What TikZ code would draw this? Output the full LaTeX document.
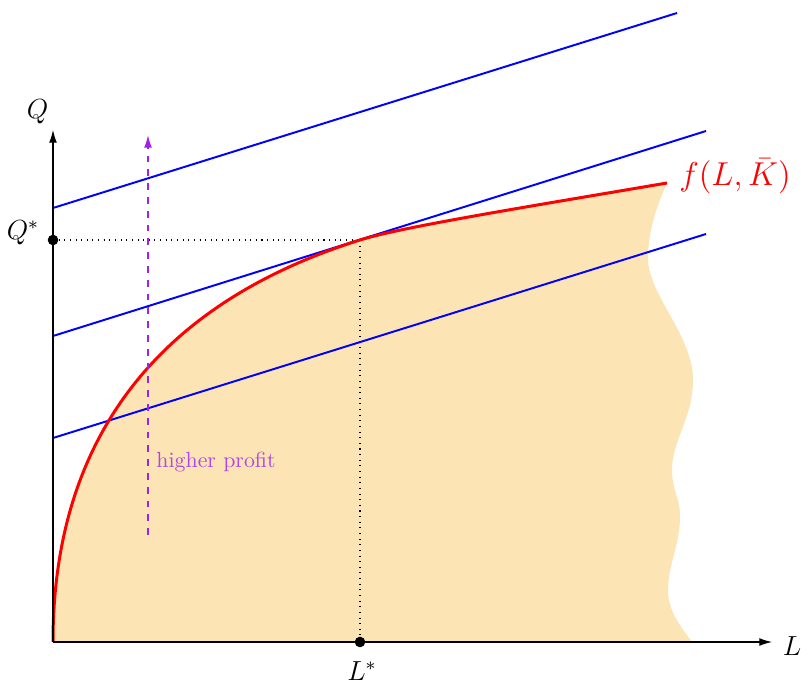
\documentclass[tikz,border=0pt]{standalone}
\usetikzlibrary{arrows.meta}
\definecolor{fillc}{RGB}{252,228,180}
\definecolor{arrowpurple}{RGB}{160,32,240}
\definecolor{textpurple}{RGB}{175,70,230}
\begin{document}
\begin{tikzpicture}[x=0.4348pt,y=-0.4348pt,
  axis/.style={line width=0.5pt,-{Latex[length=5.5pt,width=3.4pt]}},
  budget/.style={blue,line width=0.85pt},
  guide/.style={dotted,line width=0.45pt},
  lbl/.style={inner sep=0pt,font=\fontsize{11.5}{13}\selectfont},
  dotmark/.style={circle,fill=black,inner sep=0pt,minimum size=4.6pt}]
\useasboundingbox (0,0) rectangle (801,681);
% key points
\coordinate (O) at (53,642);
\coordinate (xend) at (772,642);
\coordinate (yend) at (53,130);
\coordinate (qs) at (53,240);
\coordinate (T) at (360,240);
\coordinate (E) at (667,183);
\coordinate (ls) at (360,642);
\coordinate (a1) at (53,438); \coordinate (a2) at (706,234);
\coordinate (b1) at (53,336); \coordinate (b2) at (706,131);
\coordinate (c1) at (53,208); \coordinate (c2) at (677,13);
\coordinate (p1) at (148,535); \coordinate (p2) at (148,135);
% shaded region
\fill[fillc] (O) .. controls (53,457) and (140,309.1) .. (T)
  .. controls (400,227.4) and (517,208.5) .. (E)
  .. controls (658,203) and (648,230) .. (648,258)
  .. controls (648,295) and (693,335) .. (693,380)
  .. controls (693,418) and (672,440) .. (672,470)
  .. controls (672,490) and (680,498) .. (680,516)
  .. controls (680,545) and (668,565) .. (668,590)
  .. controls (668,612) and (682,628) .. (692,642)
  -- cycle;
% guides
\draw[guide] (qs) -- (T);
\draw[guide] (T) -- (ls);
% iso-profit lines
\draw[budget] (a1) -- (a2);
\draw[budget] (b1) -- (b2);
\draw[budget] (c1) -- (c2);
% production function
\draw[red,line width=1.3pt] (O) .. controls (53,457) and (140,309.1) .. (T)
  .. controls (400,227.4) and (517,208.5) .. (E);
% higher profit arrow
\draw[arrowpurple,dashed,line width=0.6pt,-{Latex[length=5.5pt,width=3.4pt]}] (p1) -- (p2);
\node[inner sep=0pt,anchor=base west,text=textpurple,font=\fontsize{9.5}{11}\selectfont] (hp) at (156,467) {higher profit};
% axes
\draw[axis] (O) -- (xend);
\draw[axis] (O) -- (yend);
\node[lbl] (Lab) at (792,646) {$L$};
\node[lbl] (Qab) at (37.5,112) {$Q$};
\node[lbl] (Qst) at (23,233) {$Q^{*}$};
\node[lbl,anchor=north] (Lst) at (362,661) {$L^{*}$};
\node[inner sep=0pt,text=red,font=\Large] (fl) at (735,176) {$f(L,\bar{K})$};
% dots
\node[dotmark] (d1) at (qs) {};
\node[dotmark] (d2) at (ls) {};
\end{tikzpicture}
\end{document}
